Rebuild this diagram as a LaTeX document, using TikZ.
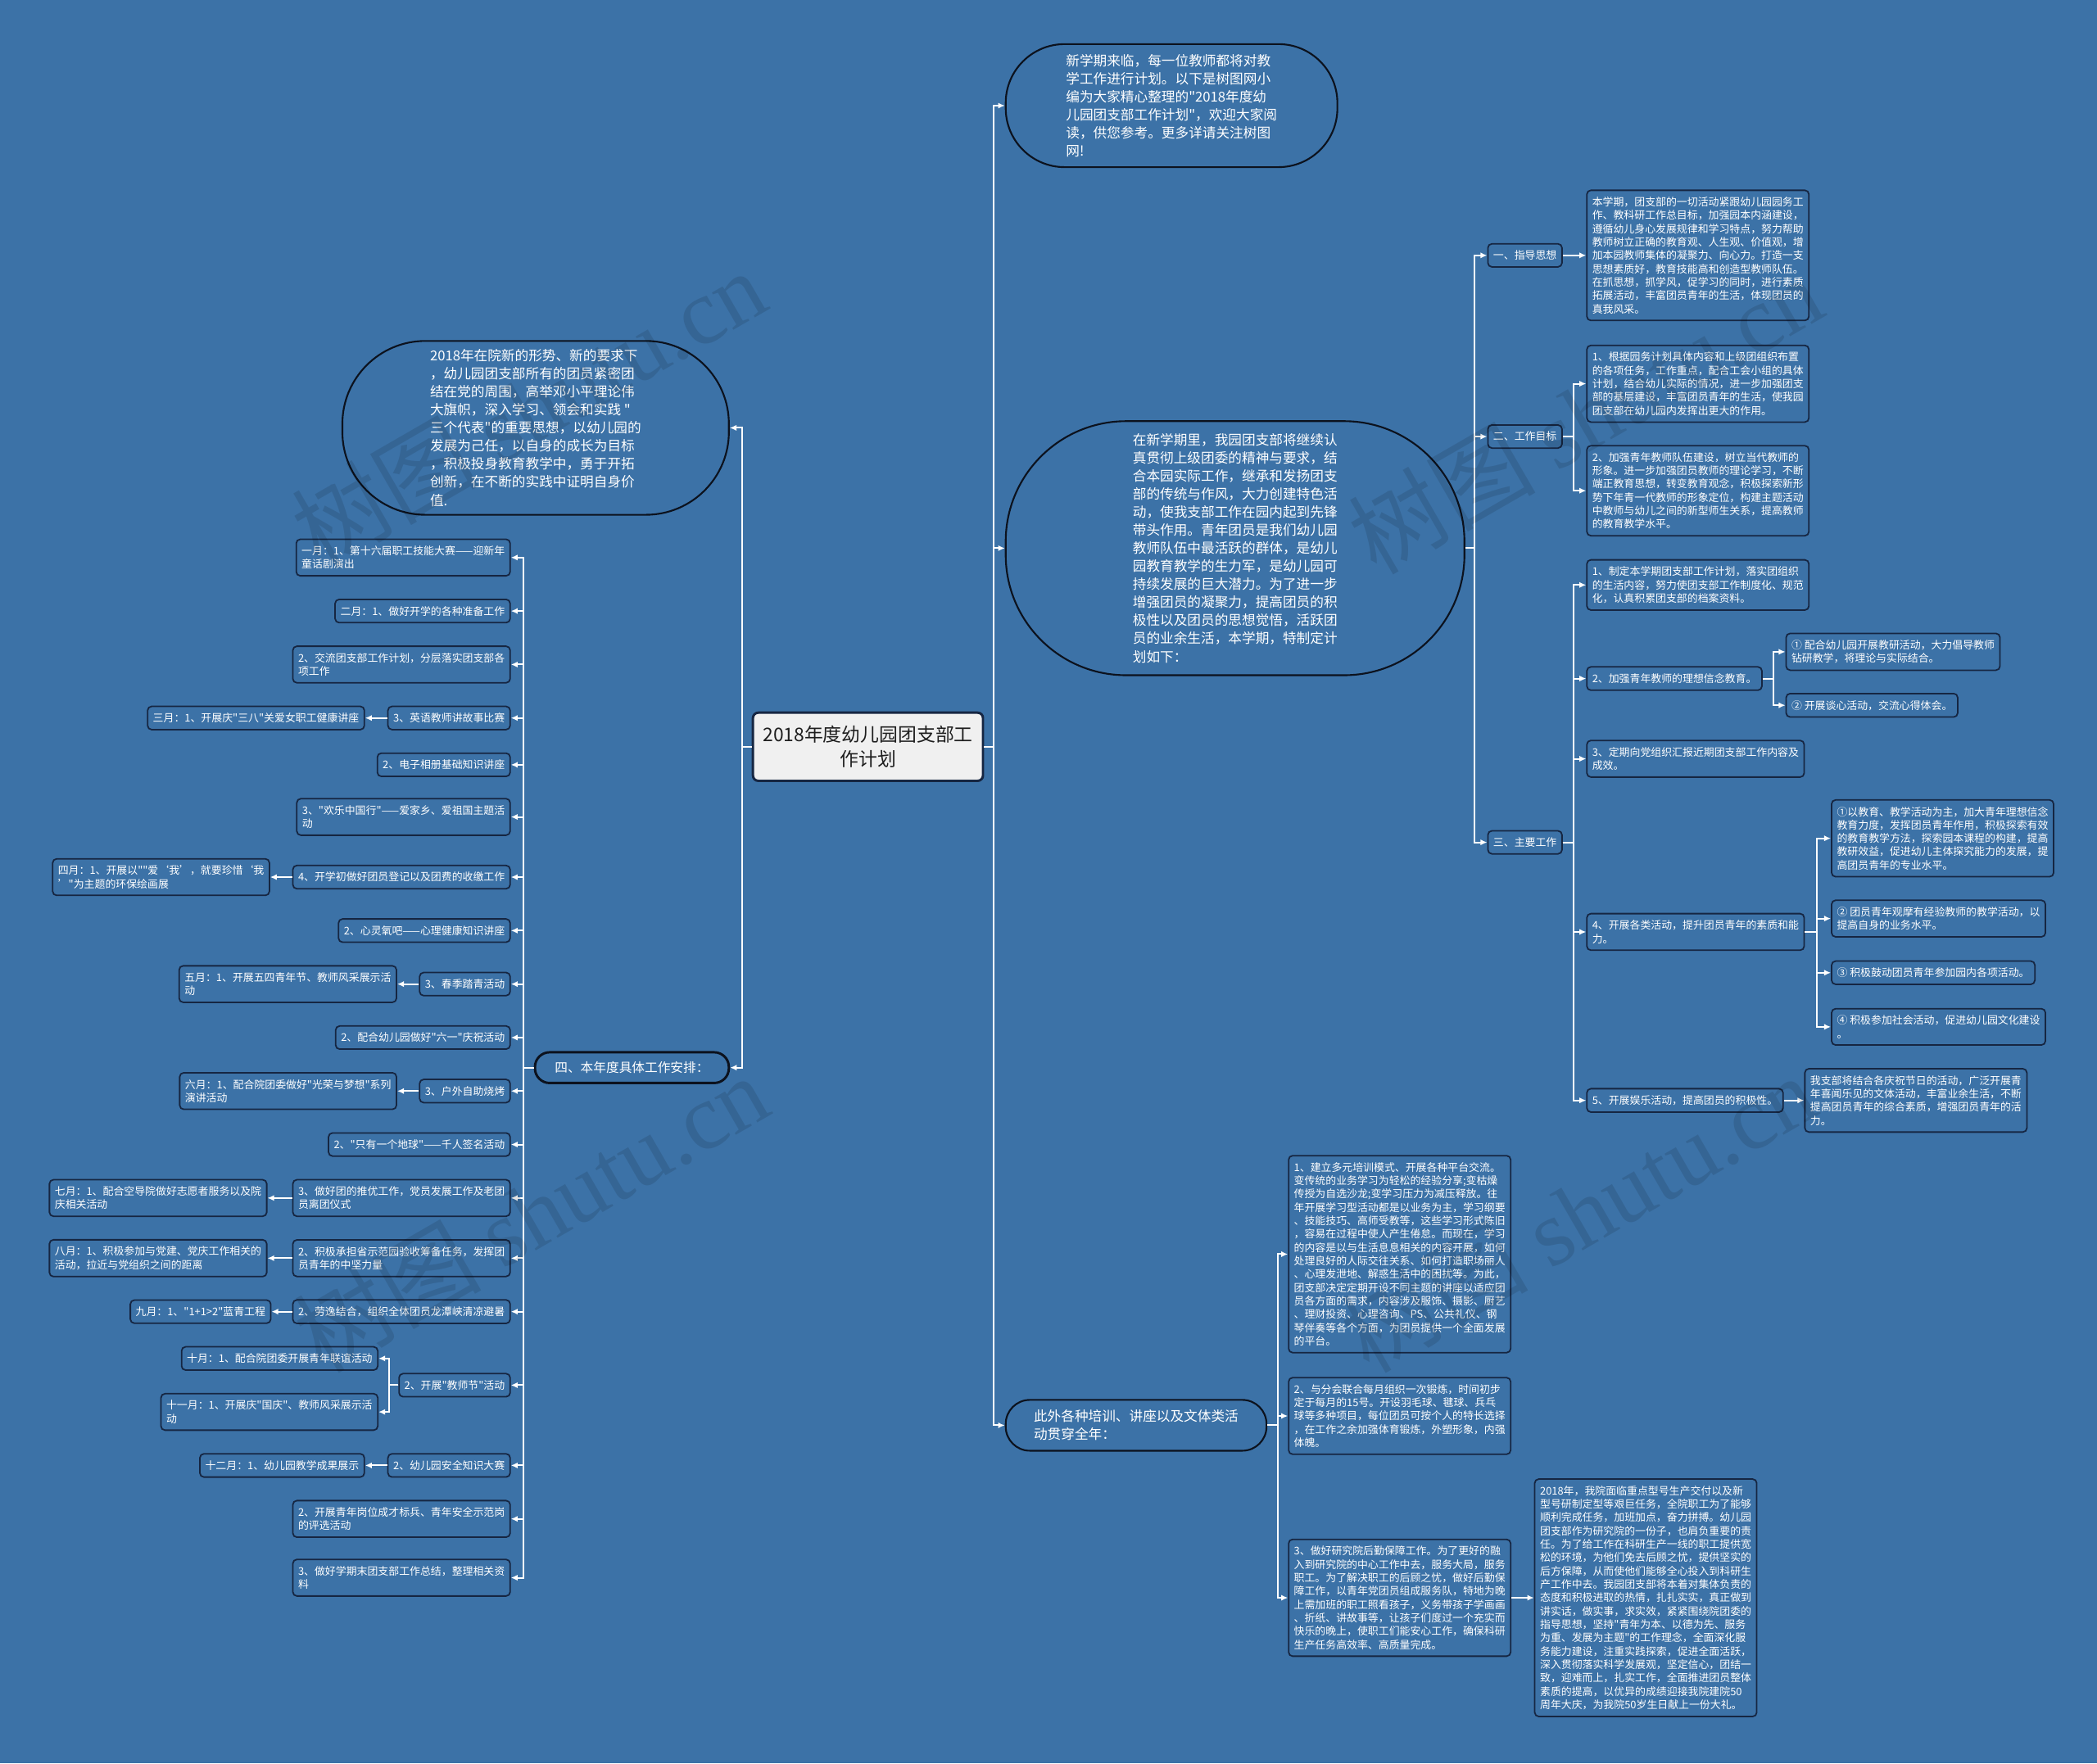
\documentclass[tikz,border=0pt]{standalone}
\usepackage{fontspec}
\setmainfont{Noto Sans CJK SC}[Ligatures=TeXOff]
\newfontfamily\wmserif{Liberation Serif}
\usetikzlibrary{arrows.meta}
\definecolor{bg}{RGB}{60,114,167}
\definecolor{edgec}{RGB}{22,38,66}
\definecolor{bubbleedge}{RGB}{12,18,30}
\definecolor{rootfill}{RGB}{240,240,240}
\definecolor{roottext}{RGB}{30,30,30}
\tikzset{
 sbox/.style={draw=edgec, line width=1.1pt, rounded corners=3pt, fill=bg, text=white,
   font=\fontsize{7.9}{10}\selectfont, align=left, inner xsep=4pt, inner ysep=5pt},
 bubble/.style={draw=bubbleedge, line width=1.3pt, fill=bg, text=white,
   font=\fontsize{10.2}{13.5}\selectfont, align=left, inner sep=0pt},
 conn/.style={draw=white, line width=1.2pt, -{Latex[length=5pt,width=4.5pt]}},
 wmark/.style={rotate=30, opacity=0.11, text=black, font=\fontsize{70}{70}\selectfont}
}
\begin{document}
\begin{tikzpicture}[x=1pt,y=-1pt]
\useasboundingbox (0,0) rectangle (1568,1319);
\fill[bg] (0,0) rectangle (1568,1319);

% root
\node[draw=edgec, line width=1.8pt, rounded corners=4pt, fill=rootfill, text=roottext,
  font=\fontsize{14}{18}\selectfont, align=center, minimum width=172pt, minimum height=51pt, inner sep=0pt]
  (root) at (649,558.5) {2018年度幼儿园团支部工\\作计划};

% bubbles
\node[bubble, rounded corners=44pt, minimum width=248pt, minimum height=92pt] (intro) at (876,79)
 {新学期来临，每一位教师都将对教\\学工作进行计划。以下是树图网小\\编为大家精心整理的"2018年度幼\\儿园团支部工作计划"，欢迎大家阅\\读，供您参考。更多详请关注树图\\网!};
\node[bubble, rounded corners=90pt, minimum width=343pt, minimum height=190pt] (mid) at (923.5,410)
 {在新学期里，我园团支部将继续认\\真贯彻上级团委的精神与要求，结\\合本园实际工作，继承和发扬团支\\部的传统与作风，大力创建特色活\\动，使我支部工作在园内起到先锋\\带头作用。青年团员是我们幼儿园\\教师队伍中最活跃的群体，是幼儿\\园教育教学的生力军，是幼儿园可\\持续发展的巨大潜力。为了进一步\\增强团员的凝聚力，提高团员的积\\极性以及团员的思想觉悟，活跃团\\员的业余生活，本学期，特制定计\\划如下：};
\node[bubble, rounded corners=18pt, minimum width=195pt, minimum height=38pt] (bot) at (849.5,1066)
 {此外各种培训、讲座以及文体类活\\动贯穿全年：};
\node[bubble, rounded corners=62pt, minimum width=289pt, minimum height=130pt] (lb) at (400.5,320)
 {2018年在院新的形势、新的要求下\\，幼儿园团支部所有的团员紧密团\\结在党的周围，高举邓小平理论伟\\大旗帜，深入学习、领会和实践 "\\三个代表"的重要思想，以幼儿园的\\发展为己任，以自身的成长为目标\\，积极投身教育教学中，勇于开拓\\创新，在不断的实践中证明自身价\\值.};
\node[bubble, line width=1.8pt, rounded corners=11pt, minimum width=145pt, minimum height=23pt,
  font=\fontsize{9.6}{12}\selectfont] (si) at (472.5,798.5) {四、本年度具体工作安排：};

% left column
\begin{scope}[every node/.style={sbox, anchor=east}]
\node (L1) at (382,417) {一月：1、第十六届职工技能大赛——迎新年\\童话剧演出};
\node (L2) at (382,457) {二月：1、做好开学的各种准备工作};
\node (L3) at (382,497) {2、交流团支部工作计划，分层落实团支部各\\项工作};
\node (L4) at (382,537) {3、英语教师讲故事比赛};
\node (M3) at (273,537) {三月：1、开展庆"三八"关爱女职工健康讲座};
\node (L5) at (382,572) {2、电子相册基础知识讲座};
\node (L6) at (382,611) {3、"欢乐中国行"——爱家乡、爱祖国主题活\\动};
\node (L7) at (382,656) {4、开学初做好团员登记以及团费的收缴工作};
\node (M4) at (202,656) {四月：1、开展以""爱‘我’，就要珍惜‘我\\’"为主题的环保绘画展};
\node (L8) at (382,696) {2、心灵氧吧——心理健康知识讲座};
\node (L9) at (382,736) {3、春季踏青活动};
\node (M5) at (297,736) {五月：1、开展五四青年节、教师风采展示活\\动};
\node (L10) at (382,776) {2、配合幼儿园做好"六一"庆祝活动};
\node (L11) at (382,816) {3、户外自助烧烤};
\node (M6) at (297,816) {六月：1、配合院团委做好"光荣与梦想"系列\\演讲活动};
\node (L12) at (382,856) {2、"只有一个地球"——千人签名活动};
\node (L13) at (382,896) {3、做好团的推优工作，党员发展工作及老团\\员离团仪式};
\node (M7) at (200,896) {七月：1、配合空导院做好志愿者服务以及院\\庆相关活动};
\node (L14) at (382,941) {2、积极承担省示范园验收筹备任务，发挥团\\员青年的中坚力量};
\node (M8) at (200,941) {八月：1、积极参加与党建、党庆工作相关的\\活动，拉近与党组织之间的距离};
\node (L15) at (382,981) {2、劳逸结合，组织全体团员龙潭峡清凉避暑};
\node (M9) at (203,981) {九月：1、"1+1>2"蓝青工程};
\node (L16) at (382,1036) {2、开展"教师节"活动};
\node (M10) at (283,1016) {十月：1、配合院团委开展青年联谊活动};
\node (M11) at (283,1056) {十一月：1、开展庆"国庆"、教师风采展示活\\动};
\node (L17) at (382,1096) {2、幼儿园安全知识大赛};
\node (M12) at (273,1096) {十二月：1、幼儿园教学成果展示};
\node (L18) at (382,1136) {2、开展青年岗位成才标兵、青年安全示范岗\\的评选活动};
\node (L19) at (382,1180) {3、做好学期末团支部工作总结，整理相关资\\料};
\end{scope}

% right column
\begin{scope}[every node/.style={sbox, anchor=west}]
\node (R1) at (1112,191) {一、指导思想};
\node (R1a) at (1186,191) {本学期，团支部的一切活动紧跟幼儿园园务工\\作、教科研工作总目标，加强园本内涵建设，\\遵循幼儿身心发展规律和学习特点，努力帮助\\教师树立正确的教育观、人生观、价值观，增\\加本园教师集体的凝聚力、向心力。打造一支\\思想素质好，教育技能高和创造型教师队伍。\\在抓思想，抓学风，促学习的同时，进行素质\\拓展活动，丰富团员青年的生活，体现团员的\\真我风采。};
\node (R2) at (1112,326.5) {二、工作目标};
\node (R2a) at (1186,287) {1、根据园务计划具体内容和上级团组织布置\\的各项任务，工作重点，配合工会小组的具体\\计划，结合幼儿实际的情况，进一步加强团支\\部的基层建设，丰富团员青年的生活，使我园\\团支部在幼儿园内发挥出更大的作用。};
\node (R2b) at (1186,367) {2、加强青年教师队伍建设，树立当代教师的\\形象。进一步加强团员教师的理论学习，不断\\端正教育思想，转变教育观念，积极探索新形\\势下年青一代教师的形象定位，构建主题活动\\中教师与幼儿之间的新型师生关系，提高教师\\的教育教学水平。};
\node (R3) at (1112,630) {三、主要工作};
\node (R31) at (1186,437.5) {1、制定本学期团支部工作计划，落实团组织\\的生活内容，努力使团支部工作制度化、规范\\化，认真积累团支部的档案资料。};
\node (R32) at (1186,507.5) {2、加强青年教师的理想信念教育。};
\node (R32a) at (1335,487.5) {① 配合幼儿园开展教研活动，大力倡导教师\\钻研教学，将理论与实际结合。};
\node (R32b) at (1335,527.5) {② 开展谈心活动，交流心得体会。};
\node (R33) at (1186,567.5) {3、定期向党组织汇报近期团支部工作内容及\\成效。};
\node (R34) at (1186,697) {4、开展各类活动，提升团员青年的素质和能\\力。};
\node (R34a) at (1369,627) {①以教育、教学活动为主，加大青年理想信念\\教育力度，发挥团员青年作用，积极探索有效\\的教育教学方法，探索园本课程的构建，提高\\教研效益，促进幼儿主体探究能力的发展，提\\高团员青年的专业水平。};
\node (R34b) at (1369,687) {② 团员青年观摩有经验教师的教学活动，以\\提高自身的业务水平。};
\node (R34c) at (1369,727.5) {③ 积极鼓动团员青年参加园内各项活动。};
\node (R34d) at (1369,768) {④ 积极参加社会活动，促进幼儿园文化建设\\。};
\node (R35) at (1186,823) {5、开展娱乐活动，提高团员的积极性。};
\node (R35a) at (1349,823) {我支部将结合各庆祝节日的活动，广泛开展青\\年喜闻乐见的文体活动，丰富业余生活，不断\\提高团员青年的综合素质，增强团员青年的活\\力。};
% bottom
\node (B1) at (963,938) {1、建立多元培训模式、开展各种平台交流。\\变传统的业务学习为轻松的经验分享;变枯燥\\传授为自选沙龙;变学习压力为减压释放。往\\年开展学习型活动都是以业务为主，学习纲要\\、技能技巧、高师受教等，这些学习形式陈旧\\，容易在过程中使人产生倦怠。而现在，学习\\的内容是以与生活息息相关的内容开展，如何\\处理良好的人际交往关系、如何打造职场丽人\\、心理发泄地、解惑生活中的困扰等。为此，\\团支部决定定期开设不同主题的讲座以适应团\\员各方面的需求，内容涉及服饰、摄影、厨艺\\、理财投资、心理咨询、PS、公共礼仪、钢\\琴伴奏等各个方面，为团员提供一个全面发展\\的平台。};
\node (B2) at (963,1059) {2、与分会联合每月组织一次锻炼，时间初步\\定于每月的15号。开设羽毛球、毽球、兵乓\\球等多种项目，每位团员可按个人的特长选择\\，在工作之余加强体育锻炼，外塑形象，内强\\体魄。};
\node (B3) at (963,1195) {3、做好研究院后勤保障工作。为了更好的融\\入到研究院的中心工作中去，服务大局，服务\\职工。为了解决职工的后顾之忧，做好后勤保\\障工作，以青年党团员组成服务队，特地为晚\\上需加班的职工照看孩子，义务带孩子学画画\\、折纸、讲故事等，让孩子们度过一个充实而\\快乐的晚上，使职工们能安心工作，确保科研\\生产任务高效率、高质量完成。};
\node (B3a) at (1147,1195) {2018年，我院面临重点型号生产交付以及新\\型号研制定型等艰巨任务，全院职工为了能够\\顺利完成任务，加班加点，奋力拼搏。幼儿园\\团支部作为研究院的一份子，也肩负重要的责\\任。为了给工作在科研生产一线的职工提供宽\\松的环境，为他们免去后顾之忧，提供坚实的\\后方保障，从而使他们能够全心投入到科研生\\产工作中去。我园团支部将本着对集体负责的\\态度和积极进取的热情，扎扎实实，真正做到\\讲实话，做实事，求实效，紧紧围绕院团委的\\指导思想，坚持"青年为本、以德为先、服务\\为重、发展为主题"的工作理念，全面深化服\\务能力建设，注重实践探索，促进全面活跃，\\深入贯彻落实科学发展观，坚定信心，团结一\\致，迎难而上，扎实工作，全面推进团员整体\\素质的提高，以优异的成绩迎接我院建院50\\周年大庆，为我院50岁生日献上一份大礼。};
\end{scope}

% connectors: root
\foreach \t in {intro,mid,bot} \draw[conn] (root.east) -- ++(7,0) |- (\t.west);
\foreach \t in {lb,si} \draw[conn] (root.west) -- ++(-7,0) |- (\t.east);
% left
\foreach \t in {L1,L2,L3,L4,L5,L6,L7,L8,L9,L10,L11,L12,L13,L14,L15,L16,L17,L18,L19}
  \draw[conn] (si.west) -- ++(-8,0) |- (\t.east);
\draw[conn] (L4.west) -- (M3.east);
\draw[conn] (L7.west) -- (M4.east);
\draw[conn] (L9.west) -- (M5.east);
\draw[conn] (L11.west) -- (M6.east);
\draw[conn] (L13.west) -- (M7.east);
\draw[conn] (L14.west) -- (M8.east);
\draw[conn] (L15.west) -- (M9.east);
\draw[conn] (L16.west) -- ++(-7,0) |- (M10.east);
\draw[conn] (L16.west) -- ++(-7,0) |- (M11.east);
\draw[conn] (L17.west) -- (M12.east);
% right
\foreach \t in {R1,R2,R3} \draw[conn] (mid.east) -- ++(7,0) |- (\t.west);
\draw[conn] (R1.east) -- (R1a.west);
\foreach \t in {R2a,R2b} \draw[conn] (R2.east) -- ++(8,0) |- (\t.west);
\foreach \t in {R31,R32,R33,R34,R35} \draw[conn] (R3.east) -- ++(8,0) |- (\t.west);
\foreach \t in {R32a,R32b} \draw[conn] (R32.east) -- ++(8,0) |- (\t.west);
\foreach \t in {R34a,R34b,R34c,R34d} \draw[conn] (R34.east) -- ++(9,0) |- (\t.west);
\draw[conn] (R35.east) -- (R35a.west);
% bottom
\foreach \t in {B1,B2,B3} \draw[conn] (bot.east) -- ++(8,0) |- (\t.west);
\draw[conn] (B3.east) -- (B3a.west);

% watermarks
\node[wmark] (wm1) at (395,305) {树图 {\wmserif shutu.cn}};
\node[wmark] (wm2) at (1185,310) {树图 {\wmserif shutu.cn}};
\node[wmark] (wm3) at (397,907) {树图 {\wmserif shutu.cn}};
\node[wmark] (wm4) at (1180,907) {树图 {\wmserif shutu.cn}};
\end{tikzpicture}
\end{document}
